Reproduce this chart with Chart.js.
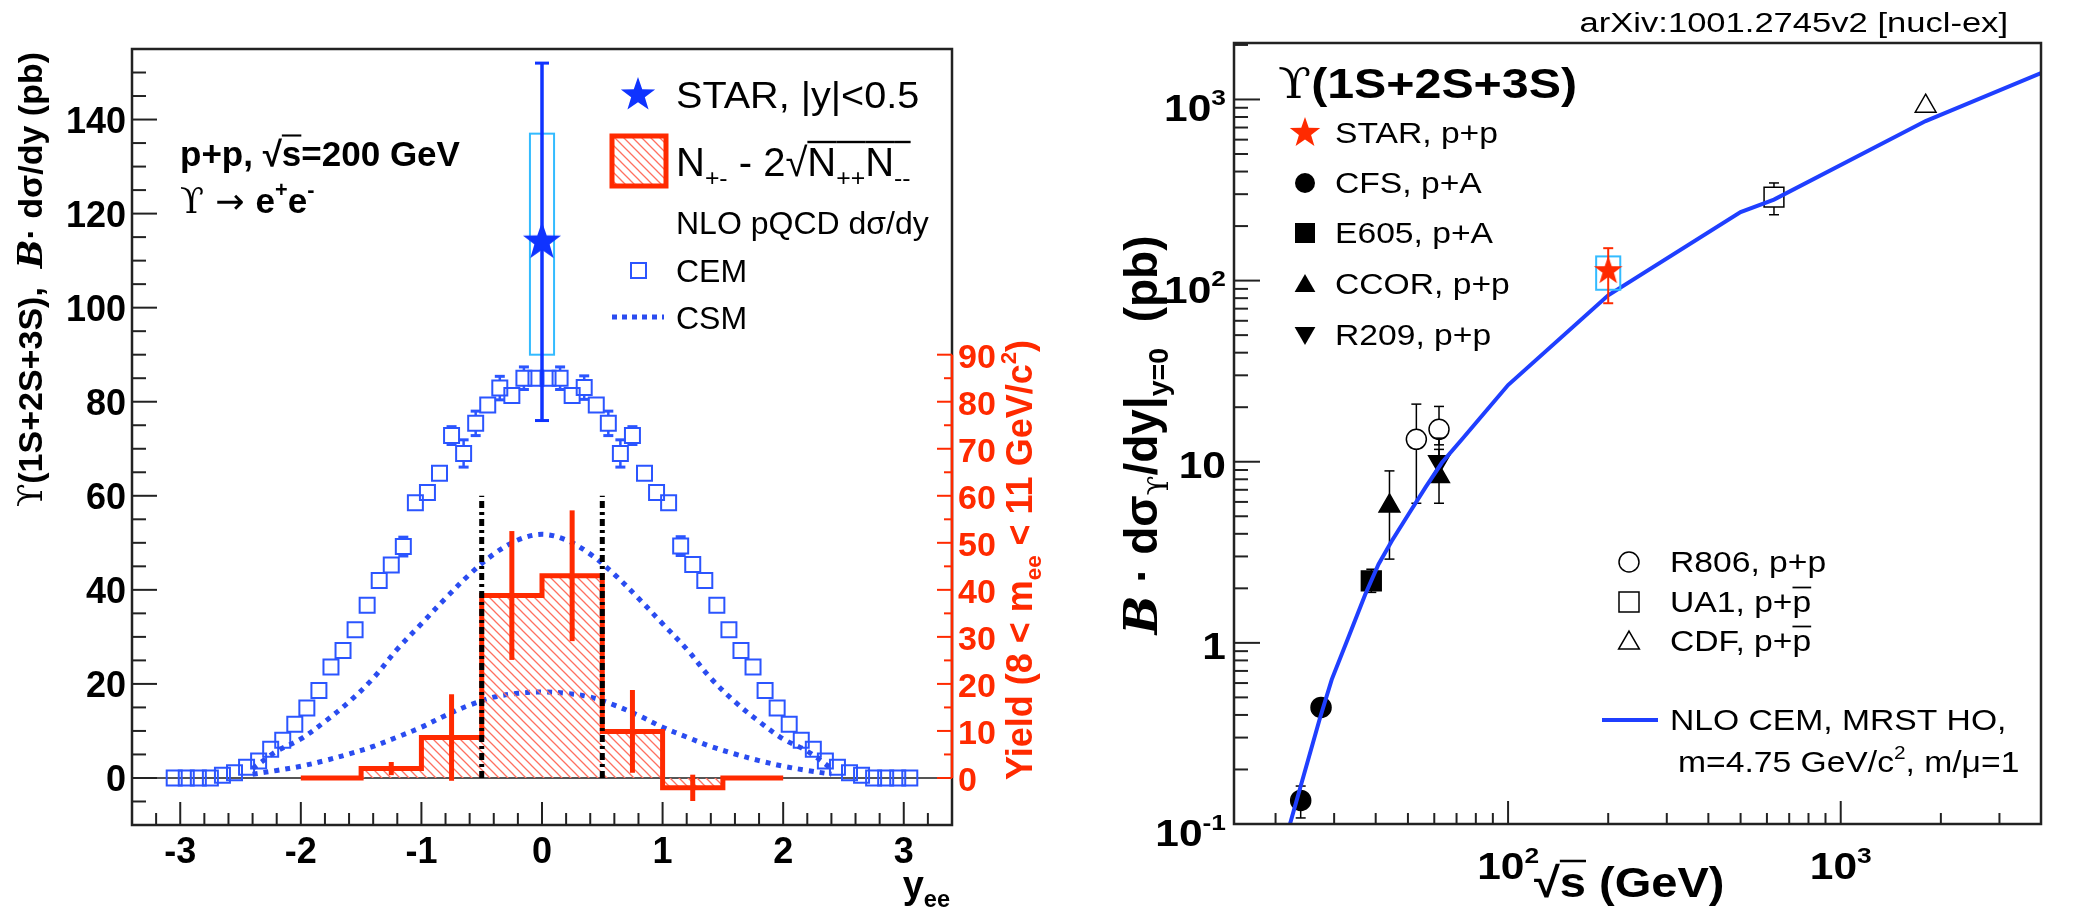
<!DOCTYPE html>
<html>
<head>
<meta charset="utf-8">
<script src="https://cdn.jsdelivr.net/npm/chart.js@4.4.1/dist/chart.umd.min.js"></script>
<style>
  html, body { margin: 0; padding: 0; background: #fff; }
  #wrap { position: relative; width: 2087px; height: 914px; }
  #left { position: absolute; left: 0; top: 0; }
  #right { position: absolute; left: 1080px; top: 0; }
</style>
</head>
<body>
<div id="wrap">
  <canvas id="left" width="1080" height="914"></canvas>
  <canvas id="right" width="1007" height="914"></canvas>
</div>
<script>
// ---------------- left panel: rapidity distribution ----------------
var cemX = [-3.05,-2.95,-2.85,-2.75,-2.65,-2.55,-2.45,-2.35,-2.25,-2.15,-2.05,-1.95,-1.85,-1.75,-1.65,-1.55,-1.45,-1.35,-1.25,-1.15,-1.05,-0.95,-0.85,-0.75,-0.65,-0.55,-0.45,-0.35,-0.25,-0.15,-0.05,
            0.05,0.15,0.25,0.35,0.45,0.55,0.65,0.75,0.85,0.95,1.05,1.15,1.25,1.35,1.45,1.55,1.65,1.75,1.85,1.95,2.05,2.15,2.25,2.35,2.45,2.55,2.65,2.75,2.85,2.95,3.05];
var cemVal = [0,0,0,0,0.6,1.1,2.3,3.6,6.1,8.0,11.4,14.9,18.6,23.6,27.1,31.5,36.7,42.0,45.3,49.2,58.5,60.7,64.8,72.8,69.0,75.4,79.3,82.9,81.3,85.0,85.0,
              85.0,85.0,81.3,83.0,79.3,75.4,69.0,72.8,64.8,60.7,58.5,49.3,45.4,42.0,36.7,31.5,27.1,23.6,18.6,14.9,11.4,8.0,6.1,3.6,2.3,1.1,0.6,0,0,0,0];
var cemErr = [0,0,0,0,0,0,0,0,0,0,0,0,0,0,0,0,0,0,0,2.0,0,0,0,1.9,2.9,2.6,0,2.5,0,2.4,0,
              0,2.4,0,2.5,0,2.6,2.9,1.9,0,0,0,2.0,0,0,0,0,0,0,0,0,0,0,0,0,0,0,0,0,0,0,0];

var csmX    = [-2.4,-2.2,-2.0,-1.8,-1.6,-1.4,-1.2,-1.0,-0.8,-0.6,-0.4,-0.2,0,0.2,0.4,0.6,0.8,1.0,1.2,1.4,1.6,1.8,2.0,2.2,2.4];
var csmHigh = [2.0,5.7,8.3,12.0,16.2,21.2,27.4,32.8,38.2,43.3,47.6,50.6,51.8,50.6,47.6,43.3,38.2,32.8,27.4,21.2,16.2,12.0,8.3,5.7,2.0];
var csmLow  = [0.8,1.6,2.5,3.7,5.1,6.7,8.7,10.8,13.3,15.5,17.2,18.0,18.3,18.0,17.2,15.5,13.3,10.8,8.7,6.7,5.1,3.7,2.5,1.6,0.8];

var yieldEdges = [-2,-1.5,-1,-0.5,0,0.5,1,1.5,2];
var yieldVals  = [0,2.0,8.6,38.8,43.0,9.9,-2.1,0];
var yieldErr   = [0,1.4,9.2,13.7,13.9,8.8,2.8,0];

var cutX = [-0.5, 0.5];
var cutTop = 60;

var starLX = [0], starLVal = [114], starLErr = [38], starLSysLo = [90], starLSysHi = [137];

var leftXTicks = [-3,-2,-1,0,1,2,3];
var leftYTicks = [0,20,40,60,80,100,120,140];
var redTicks = [0,10,20,30,40,50,60,70,80,90];

// ---------------- right panel: energy dependence ----------------
var nloE   = [21.5,22.1,23.4,27.2,29.5,33.1,37.2,40.8,44.7,50.2,56.4,63.3,72.7,83.6,100,200,500,630,1800,4000];
var nloSig = [0.084,0.1,0.145,0.385,0.627,1.07,1.85,2.72,3.65,5.13,7.2,9.9,13.3,18.0,26.5,83,239,280,760,1400];

var starRX = [200], starRVal = [113], starRLo = [75], starRHi = [151], starRSysLo = [89], starRSysHi = [136];
var cfsX = [23.8,27.4],  cfsVal = [0.135,0.44], cfsLo = [0.108,0.41], cfsHi = [0.162,0.47];
var e605X = [38.8],      e605Val = [2.2],       e605Lo = [1.9],       e605Hi = [2.55];
var ccorX = [44,62],     ccorVal = [5.7,8.3],   ccorLo = [2.9,5.9],   ccorHi = [8.9,11.7];
var r209X = [62],        r209Val = [10.0],      r209Lo = [7.8],       r209Hi = [13.5];
var r806X = [53,62],     r806Val = [13.3,15.1], r806Lo = [5.9,12.4],  r806Hi = [20.8,20.2];
var ua1X = [630],        ua1Val = [289],        ua1Lo = [231],        ua1Hi = [346];
var cdfX = [1800],       cdfVal = [918],        cdfLo = [880],        cdfHi = [960];

var rightXTicks = [100, 1000];
var rightXLabels = [['10','2'], ['10','3']];
var rightYTicks = [0.1, 1, 10, 100, 1000];
var rightYLabels = [['10','-1'], ['1',''], ['10',''], ['10','2'], ['10','3']];

// ---------------- helpers ----------------
var SANS = "'Liberation Sans', Arial, Helvetica, sans-serif";
var SERIF = "'DejaVu Serif', 'Liberation Serif', serif";
var BLUE = '#2b55ff', DBLUE = '#0f33ff', RED = '#ff2a00', CYAN = '#33bbff';

function pts(xs, ys) {
  return xs.map(function (x, i) { return {x: x, y: ys[i]}; });
}

// rich text: segments with sub/superscripts and overbars; y is the cap centre
function rich(ctx, segs, x, y, o) {
  var size = o.size, hs = o.hs || 1, w = 0, parts = [];
  segs.forEach(function (s) {
    if (typeof s === 'string') s = {t: s};
    var sz = s.s ? size * 0.62 : size;
    var font = (s.st !== undefined ? s.st : (o.st || '')) + ' ' + sz + 'px ' + (s.f || SANS);
    ctx.font = font;
    var sw = ctx.measureText(s.t).width;
    var dy = s.s === 'sup' ? -size * 0.45 : s.s === 'sub' ? size * 0.25 : 0;
    parts.push({t: s.t, font: font, x: w, dy: dy, w: sw, ov: s.ov});
    w += sw;
  });
  ctx.save();
  ctx.translate(x, y);
  if (o.rot) ctx.rotate(o.rot);
  ctx.scale(hs, 1);
  var x0 = o.align === 'right' ? -w : o.align === 'center' ? -w / 2 : 0;
  ctx.fillStyle = o.color || '#000';
  ctx.strokeStyle = o.color || '#000';
  ctx.textAlign = 'left';
  ctx.textBaseline = 'alphabetic';
  var base = size * 0.36;
  parts.forEach(function (p) {
    ctx.font = p.font;
    ctx.fillText(p.t, x0 + p.x, base + p.dy);
    if (p.ov) {
      ctx.lineWidth = Math.max(1.5, size * 0.06);
      ctx.beginPath();
      ctx.moveTo(x0 + p.x, base - size * 0.86);
      ctx.lineTo(x0 + p.x + p.w, base - size * 0.86);
      ctx.stroke();
    }
  });
  ctx.restore();
}

function starCanvas(r, color) {
  var c = document.createElement('canvas');
  c.width = c.height = 2 * r + 2;
  var g = c.getContext('2d');
  g.fillStyle = color;
  g.beginPath();
  for (var i = 0; i < 10; i++) {
    var a = -Math.PI / 2 + i * Math.PI / 5, rr = i % 2 ? r * 0.4 : r;
    g.lineTo(r + 1 + rr * Math.cos(a), r + 1 + rr * Math.sin(a));
  }
  g.closePath();
  g.fill();
  return c;
}

function hatchPattern(ctxTarget, color) {
  var c = document.createElement('canvas');
  c.width = c.height = 9;
  var g = c.getContext('2d');
  g.strokeStyle = color;
  g.lineWidth = 1.3;
  g.beginPath();
  g.moveTo(0, 0); g.lineTo(9, 9);
  g.moveTo(-1, 8); g.lineTo(1, 10);
  g.moveTo(8, -1); g.lineTo(10, 1);
  g.stroke();
  return ctxTarget.createPattern(c, 'repeat');
}

function mark(ctx, type, x, y, r, fill, stroke, lw) {
  ctx.save();
  ctx.beginPath();
  if (type === 'circle') ctx.arc(x, y, r, 0, 2 * Math.PI);
  else if (type === 'square') ctx.rect(x - r, y - r, 2 * r, 2 * r);
  else if (type === 'tri') { ctx.moveTo(x, y - r); ctx.lineTo(x + r * 0.866, y + r / 2); ctx.lineTo(x - r * 0.866, y + r / 2); ctx.closePath(); }
  else if (type === 'tridown') { ctx.moveTo(x, y + r); ctx.lineTo(x + r * 0.866, y - r / 2); ctx.lineTo(x - r * 0.866, y - r / 2); ctx.closePath(); }
  if (fill) { ctx.fillStyle = fill; ctx.fill(); }
  if (stroke) { ctx.strokeStyle = stroke; ctx.lineWidth = lw || 1.5; ctx.stroke(); }
  ctx.restore();
}

function line(ctx, x1, y1, x2, y2) {
  ctx.beginPath(); ctx.moveTo(x1, y1); ctx.lineTo(x2, y2); ctx.stroke();
}

// error bars (and systematic boxes) taken from dataset.eb, drawn through the chart scales
function drawEB(chart, eb) {
  var ctx = chart.ctx, xs = chart.scales.x, ys = chart.scales.y;
  ctx.save();
  eb.x.forEach(function (xv, j) {
    var lo = eb.lo ? eb.lo[j] : eb.y[j] - eb.err[j];
    var hi = eb.hi ? eb.hi[j] : eb.y[j] + eb.err[j];
    var px = xs.getPixelForValue(xv), pc = ys.getPixelForValue(eb.y[j]);
    if (eb.box) {
      var bx0 = xs.getPixelForValue(eb.box.dx ? xv - eb.box.dx : xv / eb.box.f);
      var bx1 = xs.getPixelForValue(eb.box.dx ? xv + eb.box.dx : xv * eb.box.f);
      var by0 = ys.getPixelForValue(eb.box.hi[j]), by1 = ys.getPixelForValue(eb.box.lo[j]);
      ctx.strokeStyle = CYAN; ctx.lineWidth = 2;
      ctx.strokeRect(bx0, by0, bx1 - bx0, by1 - by0);
    }
    if (hi === lo) return;
    var ph = ys.getPixelForValue(hi), pl = ys.getPixelForValue(lo);
    ctx.strokeStyle = eb.color; ctx.lineWidth = eb.lw;
    var g = eb.gap || 0;
    if (ph < pc - g) line(ctx, px, ph, px, pc - g);
    if (pl > pc + g) line(ctx, px, pc + g, px, pl);
    if (eb.cap) {
      ctx.lineWidth = eb.capLw || eb.lw;
      if (ph < pc - g) line(ctx, px - eb.cap, ph, px + eb.cap, ph);
      if (pl > pc + g) line(ctx, px - eb.cap, pl, px + eb.cap, pl);
    }
  });
  ctx.restore();
}

var errorBars = {
  id: 'errorBars',
  beforeDatasetDraw: function (chart, args) {
    var ds = chart.data.datasets[args.index];
    if (ds.eb && ds.eb.before) drawEB(chart, ds.eb);
  },
  afterDatasetDraw: function (chart, args) {
    var ds = chart.data.datasets[args.index];
    if (ds.eb && !ds.eb.before) drawEB(chart, ds.eb);
  }
};

// ---------------- left chart ----------------
var leftCtx = document.getElementById('left').getContext('2d');
var hatch = hatchPattern(leftCtx, '#ff7060');

var histPts = [];
yieldVals.forEach(function (v, i) {
  histPts.push({x: yieldEdges[i], y: v}, {x: yieldEdges[i + 1], y: v});
});
var binCentres = yieldVals.map(function (v, i) { return (yieldEdges[i] + yieldEdges[i + 1]) / 2; });

var leftDeco = {
  id: 'leftDeco',
  beforeDatasetsDraw: function (chart) {
    var ctx = chart.ctx, a = chart.chartArea, y0 = chart.scales.y.getPixelForValue(0);
    ctx.save();
    ctx.strokeStyle = '#555'; ctx.lineWidth = 2;
    line(ctx, a.left, y0, a.right, y0);
    ctx.restore();
  },
  afterDraw: function (chart) {
    var ctx = chart.ctx, a = chart.chartArea, xs = chart.scales.x, ys = chart.scales.y;
    ctx.save();
    ctx.strokeStyle = '#222'; ctx.lineWidth = 2.5;
    ctx.strokeRect(a.left, a.top, a.right - a.left, a.bottom - a.top);
    ctx.lineWidth = 2;
    for (var v = -5; v <= 150; v += 5) {
      var py = ys.getPixelForValue(v);
      line(ctx, a.left, py, a.left + (v % 20 === 0 ? 25 : 14), py);
    }
    for (var i = -17; i <= 17; i++) {
      var px = xs.getPixelForValue(i * 0.2);
      line(ctx, px, a.bottom, px, a.bottom - (i % 5 === 0 ? 23 : 12));
    }
    leftYTicks.forEach(function (t) {
      rich(ctx, [String(t)], a.left - 6, ys.getPixelForValue(t), {size: 36, st: 'bold', align: 'right'});
    });
    leftXTicks.forEach(function (t) {
      rich(ctx, [String(t)], xs.getPixelForValue(t), 850, {size: 36, st: 'bold', align: 'center'});
    });
    rich(ctx, ['y', {t: 'ee', s: 'sub'}], 950, 884, {size: 38, st: 'bold', align: 'right'});

    // red yield axis
    var r0 = ys.getPixelForValue(0), r90 = ys.getPixelForValue(90);
    ctx.strokeStyle = RED; ctx.lineWidth = 2.5;
    line(ctx, a.right, r0, a.right, r90);
    ctx.lineWidth = 2;
    for (var k = 0; k <= 90; k += 5) {
      var ry = ys.getPixelForValue(k);
      line(ctx, a.right, ry, a.right - (k % 10 === 0 ? 15 : 8), ry);
    }
    redTicks.forEach(function (t) {
      rich(ctx, [String(t)], a.right + 6, ys.getPixelForValue(t) + 1, {size: 34, st: 'bold', color: RED});
    });
    rich(ctx, ['Yield (8 < m', {t: 'ee', s: 'sub'}, ' < 11 GeV/c', {t: '2', s: 'sup'}, ')'],
         1019, 780, {size: 36, st: 'bold', color: RED, rot: -Math.PI / 2});

    // left axis title
    rich(ctx, [{t: '\u03d2', f: SERIF, st: ''}, '(1S+2S+3S),  ', {t: 'B', f: SERIF, st: 'bold italic'}, '\u00b7 d\u03c3/dy (pb)'],
         30, 52, {size: 34, st: 'bold', align: 'right', rot: -Math.PI / 2});

    // annotations
    rich(ctx, ['p+p, \u221a', {t: 's', ov: true}, '=200 GeV'], 180, 153, {size: 35, st: 'bold'});
    rich(ctx, [{t: '\u03d2', f: SERIF, st: ''}, {t: ' \u2192 ', f: "'DejaVu Sans', sans-serif", st: ''}, 'e', {t: '+', s: 'sup'}, 'e', {t: '-', s: 'sup'}],
         180, 200, {size: 35, st: 'bold'});

    // legend
    var st = starCanvas(18, DBLUE);
    ctx.drawImage(st, 638 - st.width / 2, 95 - st.height / 2);
    rich(ctx, ['STAR, |y|<0.5'], 676, 95, {size: 36, hs: 1.1});
    ctx.fillStyle = hatch;
    ctx.fillRect(612, 136, 54, 50);
    ctx.strokeStyle = RED; ctx.lineWidth = 5;
    ctx.strokeRect(612, 136, 54, 50);
    rich(ctx, ['N', {t: '+-', s: 'sub'}, ' - 2\u221a', {t: 'N', ov: true}, {t: '++', s: 'sub', ov: true}, {t: 'N', ov: true}, {t: '--', s: 'sub', ov: true}],
         676, 162, {size: 40});
    rich(ctx, ['NLO pQCD d\u03c3/dy'], 676, 222, {size: 32});
    ctx.strokeStyle = BLUE; ctx.lineWidth = 2;
    ctx.strokeRect(631, 263, 15, 15);
    rich(ctx, ['CEM'], 676, 270, {size: 32});
    ctx.lineWidth = 5; ctx.setLineDash([5, 5]); ctx.strokeStyle = '#2a4cf0';
    line(ctx, 612, 317, 664, 317);
    ctx.setLineDash([]);
    rich(ctx, ['CSM'], 676, 317, {size: 32});
    ctx.restore();
  }
};

new Chart(leftCtx, {
  type: 'scatter',
  data: {
    datasets: [
      {
        label: 'STAR |y|<0.5',
        data: pts(starLX, starLVal),
        pointStyle: starCanvas(20, DBLUE),
        pointRadius: 10,
        eb: {x: starLX, y: starLVal, err: starLErr, color: DBLUE, lw: 3.5, cap: 7, capLw: 3, before: true,
             box: {dx: 0.1, lo: starLSysLo, hi: starLSysHi}}
      },
      {
        label: 'cut -0.5',
        data: [{x: cutX[0], y: 0}, {x: cutX[0], y: cutTop}],
        showLine: true, borderColor: '#000', borderWidth: 5, borderDash: [7, 4, 3, 4], pointRadius: 0
      },
      {
        label: 'cut 0.5',
        data: [{x: cutX[1], y: 0}, {x: cutX[1], y: cutTop}],
        showLine: true, borderColor: '#000', borderWidth: 5, borderDash: [7, 4, 3, 4], pointRadius: 0
      },
      {
        label: 'N+- - 2sqrt(N++N--)',
        data: histPts,
        showLine: true, borderColor: RED, borderWidth: 5, pointRadius: 0,
        fill: 'origin', backgroundColor: hatch,
        eb: {x: binCentres, y: yieldVals, err: yieldErr, color: RED, lw: 5}
      },
      {
        label: 'CSM high',
        data: pts(csmX, csmHigh),
        showLine: true, borderColor: '#2a4cf0', borderWidth: 5, borderDash: [5, 6], tension: 0.35, pointRadius: 0
      },
      {
        label: 'CSM low',
        data: pts(csmX, csmLow),
        showLine: true, borderColor: '#2a4cf0', borderWidth: 5, borderDash: [5, 6], tension: 0.35, pointRadius: 0
      },
      {
        label: 'CEM',
        data: pts(cemX, cemVal),
        pointStyle: 'rect', pointRadius: 10.6, borderColor: BLUE, borderWidth: 2,
        backgroundColor: 'rgba(0,0,0,0)',
        eb: {x: cemX, y: cemVal, err: cemErr, color: BLUE, lw: 2.5, cap: 5, capLw: 3, gap: 7.5}
      }
    ]
  },
  options: {
    responsive: false, animation: false, devicePixelRatio: 1, events: [],
    layout: {padding: {left: 132, right: 128, top: 49, bottom: 89}},
    plugins: {legend: {display: false}, tooltip: {enabled: false}},
    scales: {
      x: {type: 'linear', min: -3.4, max: 3.4, display: false},
      y: {type: 'linear', min: -10, max: 155, display: false}
    }
  },
  plugins: [errorBars, leftDeco]
});

// ---------------- right chart ----------------
var rightDeco = {
  id: 'rightDeco',
  afterDraw: function (chart) {
    var ctx = chart.ctx, a = chart.chartArea, xs = chart.scales.x, ys = chart.scales.y;
    ctx.save();
    ctx.strokeStyle = '#222'; ctx.lineWidth = 2.5;
    ctx.strokeRect(a.left, a.top, a.right - a.left, a.bottom - a.top);
    ctx.lineWidth = 2;
    for (var d = -1; d <= 3; d++) {
      for (var m = 1; m <= 9; m++) {
        var v = m * Math.pow(10, d);
        if (v > 2050) continue;
        var py = ys.getPixelForValue(v);
        line(ctx, a.left, py, a.left + (m === 1 ? 26 : 14), py);
      }
    }
    for (var e = 1; e <= 3; e++) {
      for (var n = 1; n <= 9; n++) {
        var xv = n * Math.pow(10, e);
        if (xv <= 15 || xv >= 4000) continue;
        var px = xs.getPixelForValue(xv);
        line(ctx, px, a.bottom, px, a.bottom - (n === 1 ? 23 : 11));
      }
    }
    rightYTicks.forEach(function (t, i) {
      var lab = rightYLabels[i], segs = [lab[0]];
      if (lab[1]) segs.push({t: lab[1], s: 'sup'});
      rich(ctx, segs, a.left - 8, ys.getPixelForValue(t) + (lab[1] ? 9 : 3), {size: 36, st: 'bold', align: 'right', hs: 1.18});
    });
    rightXTicks.forEach(function (t, i) {
      var lab = rightXLabels[i];
      rich(ctx, [lab[0], {t: lab[1], s: 'sup'}], xs.getPixelForValue(t), 866, {size: 36, st: 'bold', align: 'center', hs: 1.18});
    });
    rich(ctx, ['\u221a', {t: 's', ov: true}, ' (GeV)'], 454, 882, {size: 42, st: 'bold', hs: 1.12});
    rich(ctx, [{t: 'B', f: SERIF, st: 'bold italic'}, ' \u00b7 d\u03c3', {t: '\u03d2', s: 'sub', f: SERIF, st: ''}, '/dy|', {t: 'y=0', s: 'sub'}, '  (pb)'],
         60, 435, {size: 46, st: 'bold', align: 'center', rot: -Math.PI / 2});

    rich(ctx, ['arXiv:1001.2745v2 [nucl-ex]'], 928, 22, {size: 27, align: 'right', hs: 1.28});

    // legends
    rich(ctx, [{t: '\u03d2', f: SERIF, st: ''}, '(1S+2S+3S)'], 198, 83, {size: 42, st: 'bold', hs: 1.15});
    var st = starCanvas(16, RED);
    ctx.drawImage(st, 225 - st.width / 2, 133 - st.height / 2);
    mark(ctx, 'circle', 225, 183, 10, '#000');
    mark(ctx, 'square', 225, 233, 10, '#000');
    mark(ctx, 'tri', 225, 286, 12, '#000');
    mark(ctx, 'tridown', 225, 333, 12, '#000');
    var rows = [['STAR, p+p', 133], ['CFS, p+A', 183], ['E605, p+A', 233], ['CCOR, p+p', 284], ['R209, p+p', 335]];
    rows.forEach(function (r) { rich(ctx, [r[0]], 255, r[1], {size: 29, hs: 1.16}); });

    mark(ctx, 'circle', 549, 562, 10, null, '#000', 1.5);
    mark(ctx, 'square', 549, 602, 10, null, '#000', 1.5);
    mark(ctx, 'tri', 549, 643, 12, null, '#000', 1.5);
    rich(ctx, ['R806, p+p'], 590, 562, {size: 29, hs: 1.16});
    rich(ctx, ['UA1, p+', {t: 'p', ov: true}], 590, 602, {size: 29, hs: 1.16});
    rich(ctx, ['CDF, p+', {t: 'p', ov: true}], 590, 641, {size: 29, hs: 1.16});
    ctx.strokeStyle = '#1f3fff'; ctx.lineWidth = 4;
    line(ctx, 522, 720, 578, 720);
    rich(ctx, ['NLO CEM, MRST HO,'], 590, 720, {size: 29, hs: 1.16});
    rich(ctx, ['m=4.75 GeV/c', {t: '2', s: 'sup'}, ', m/\u03bc=1'], 598, 762, {size: 29, hs: 1.16});
    ctx.restore();
  }
};

function openPt(xs, ys, style, r, extra) {
  var d = {
    data: pts(xs, ys), pointStyle: style, pointRadius: r,
    borderColor: '#000', borderWidth: 1.5, backgroundColor: 'rgba(0,0,0,0)'
  };
  for (var k in extra) d[k] = extra[k];
  return d;
}
function fullPt(xs, ys, style, r, extra) {
  var d = openPt(xs, ys, style, r, extra);
  d.backgroundColor = '#000';
  return d;
}

new Chart(document.getElementById('right').getContext('2d'), {
  type: 'scatter',
  data: {
    datasets: [
      {
        label: 'STAR, p+p',
        data: pts(starRX, starRVal),
        pointStyle: starCanvas(15, RED), pointRadius: 10,
        eb: {x: starRX, y: starRVal, lo: starRLo, hi: starRHi, color: RED, lw: 2, cap: 5, before: true,
             box: {f: 1.087, lo: starRSysLo, hi: starRSysHi}}
      },
      {
        label: 'NLO CEM',
        data: pts(nloE, nloSig),
        showLine: true, borderColor: '#1f3fff', borderWidth: 4, pointRadius: 0
      },
      fullPt(cfsX, cfsVal, 'circle', 10, {label: 'CFS', eb: {x: cfsX, y: cfsVal, lo: cfsLo, hi: cfsHi, color: '#000', lw: 1.5, cap: 5}}),
      fullPt(e605X, e605Val, 'rect', 14, {label: 'E605', eb: {x: e605X, y: e605Val, lo: e605Lo, hi: e605Hi, color: '#000', lw: 1.5, cap: 5}}),
      fullPt(ccorX, ccorVal, 'triangle', 12, {label: 'CCOR', eb: {x: ccorX, y: ccorVal, lo: ccorLo, hi: ccorHi, color: '#000', lw: 1.5, cap: 5}}),
      fullPt(r209X, r209Val, 'triangle', 12, {label: 'R209', rotation: 180, eb: {x: r209X, y: r209Val, lo: r209Lo, hi: r209Hi, color: '#000', lw: 1.5, cap: 5}}),
      openPt(r806X, r806Val, 'circle', 10, {label: 'R806', eb: {x: r806X, y: r806Val, lo: r806Lo, hi: r806Hi, color: '#000', lw: 1.5, cap: 5, gap: 10}}),
      openPt(ua1X, ua1Val, 'rect', 14, {label: 'UA1', eb: {x: ua1X, y: ua1Val, lo: ua1Lo, hi: ua1Hi, color: '#000', lw: 1.5, cap: 5, gap: 10}}),
      openPt(cdfX, cdfVal, 'triangle', 12, {label: 'CDF', eb: {x: cdfX, y: cdfVal, lo: cdfLo, hi: cdfHi, color: '#000', lw: 1.5, cap: 5, gap: 12}})
    ]
  },
  options: {
    responsive: false, animation: false, devicePixelRatio: 1, events: [],
    layout: {padding: {left: 154, right: 46, top: 43, bottom: 90}},
    plugins: {legend: {display: false}, tooltip: {enabled: false}},
    scales: {
      x: {type: 'logarithmic', min: 15, max: 4000, display: false},
      y: {type: 'logarithmic', min: 0.1, max: 2050, display: false}
    }
  },
  plugins: [errorBars, rightDeco]
});
</script>
</body>
</html>
